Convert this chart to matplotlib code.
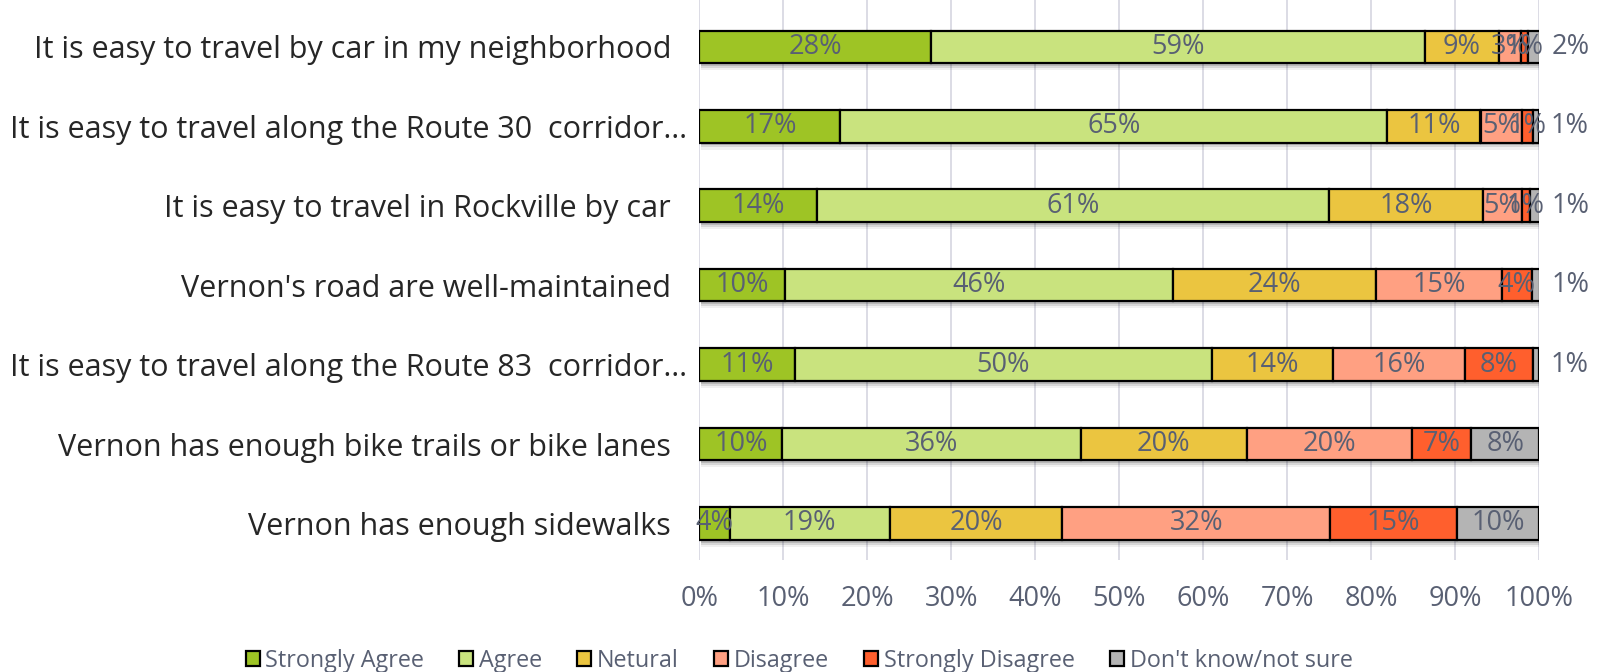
import matplotlib
matplotlib.use("Agg")
import matplotlib.pyplot as plt
import matplotlib.patheffects as pe
from matplotlib.patches import Patch
import numpy as np

plt.rcParams['font.family'] = ['Open Sans', 'DejaVu Sans']

categories = [
    "It is easy to travel by car in my neighborhood  ",
    "It is easy to travel along the Route 30  corridor…",
    "It is easy to travel in Rockville by car  ",
    "Vernon's road are well-maintained  ",
    "It is easy to travel along the Route 83  corridor…",
    "Vernon has enough bike trails or bike lanes  ",
    "Vernon has enough sidewalks  ",
]
series_names = ["Strongly Agree", "Agree", "Netural", "Disagree", "Strongly Disagree", "Don't know/not sure"]
strongly_agree = [27.6, 16.8, 14.0, 10.2, 11.4, 9.9, 3.6]
agree = [58.8, 65.1, 61.0, 46.2, 49.6, 35.5, 19.1]
neutral = [8.8, 11.1, 18.3, 24.2, 14.4, 19.8, 20.5]
disagree = [2.6, 4.9, 4.6, 14.9, 15.8, 19.7, 31.9]
strongly_disagree = [0.8, 1.4, 1.0, 3.6, 8.0, 7.0, 15.1]
dont_know = [1.5, 0.7, 1.2, 1.0, 0.8, 8.1, 9.8]
xtick_labels = ["0%", "10%", "20%", "30%", "40%", "50%", "60%", "70%", "80%", "90%", "100%"]

colors = ["#9ec425", "#c9e37e", "#ebc540", "#ffa082", "#ff5f2d", "#b4b4b4"]
label_color = "#596073"

fig = plt.figure(figsize=(15.98, 6.72), dpi=100)
ax = fig.add_axes([699.3 / 1598, (672 - 560) / 672, 840 / 1598, 560 / 672])

data = [strongly_agree, agree, neutral, disagree, strongly_disagree, dont_know]
y = np.arange(len(categories))
left = np.zeros(len(categories))
shadow = [pe.SimplePatchShadow(offset=(1, -5), shadow_rgbFace="#000000", alpha=0.06),
          pe.SimplePatchShadow(offset=(1, -3.5), shadow_rgbFace="#000000", alpha=0.10),
          pe.SimplePatchShadow(offset=(1, -2), shadow_rgbFace="#000000", alpha=0.14),
          pe.Normal()]
for si, (vals, name, col) in enumerate(zip(data, series_names, colors)):
    vals = np.array(vals)
    bars = ax.barh(y, vals, left=left, height=0.41, color=col, edgecolor="black",
                   linewidth=1.6, label=name, zorder=3)
    for b in bars:
        b.set_path_effects(shadow)
    for yi, v, l in zip(y, vals, left):
        txt = f"{v:.0f}%"
        if si == len(data) - 1 and v < 3:
            ax.text(l + v + 3.6, yi, txt, ha="center", va="center", color=label_color,
                    fontsize=19.5, zorder=5)
        else:
            ax.text(l + v / 2, yi, txt, ha="center", va="center", color=label_color,
                    fontsize=19.5, zorder=5)
    left = left + vals

ax.set_xlim(0, 100)
ax.set_ylim(6.46, -0.59)
ax.set_xticks(np.arange(0, 101, 10))
ax.set_xticklabels(xtick_labels, fontsize=19.5, color=label_color)
ax.set_yticks(y)
ax.set_yticklabels(categories, fontsize=22, color="#262626")
ax.tick_params(axis="both", length=0)
ax.tick_params(axis="x", pad=18)
ax.tick_params(axis="y", pad=9)
ax.grid(axis="x", color="#d9d9e3", linewidth=1.3, zorder=0)
ax.set_axisbelow(True)
for s in ax.spines.values():
    s.set_visible(False)

handles = [Patch(facecolor=c, edgecolor="black", linewidth=1.6) for c in colors]
fig.legend(handles, series_names, loc="center", bbox_to_anchor=(0.5, 1 - 661 / 672),
           ncol=6, frameon=False, fontsize=16.8, handlelength=0.6, handleheight=0.6,
           handletextpad=0.25, columnspacing=1.5, labelcolor=label_color)

fig.savefig("out.png", dpi=100)
